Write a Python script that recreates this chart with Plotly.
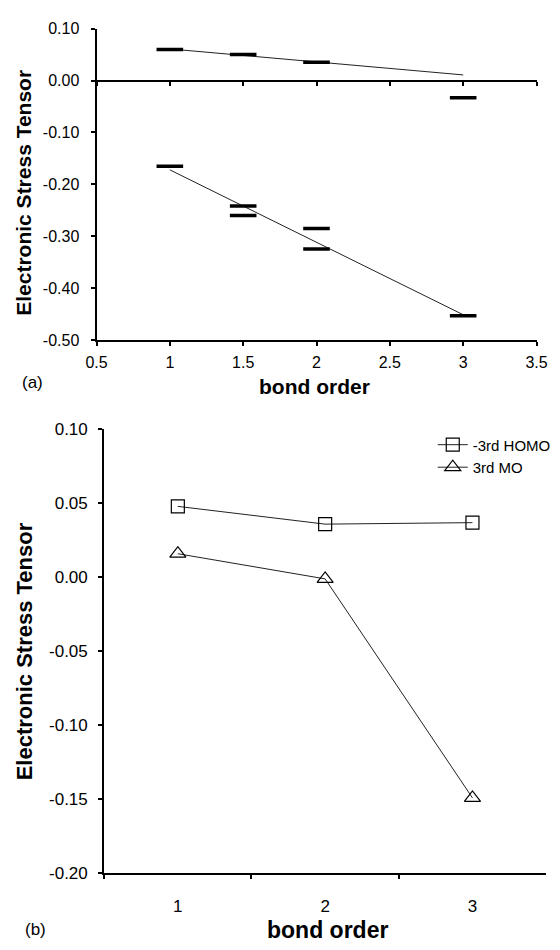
import numpy as np
import plotly.graph_objects as go

# ---- panel (a): stress tensor vs bond order, with linear trend lines ----
a_upper_x = [1, 1.5, 2]
a_upper_y = [0.060, 0.050, 0.035]
a_extra_x = [3]
a_extra_y = [-0.033]
a_lower_x = [1, 1.5, 1.5, 2, 2, 3]
a_lower_y = [-0.165, -0.2415, -0.260, -0.285, -0.3245, -0.453]
a_fit_span = [1, 3]
a_xticks = [0.5, 1, 1.5, 2, 2.5, 3, 3.5]
a_xticktext = ["0.5", "1", "1.5", "2", "2.5", "3", "3.5"]
a_yticks = [0.10, 0.0, -0.10, -0.20, -0.30, -0.40, -0.50]
a_yticktext = ["0.10", "0.00", "-0.10", "-0.20", "-0.30", "-0.40", "-0.50"]

# ---- panel (b): two orbitals vs bond order ----
b_cats = ["1", "2", "3"]
b_homo = [0.048, 0.036, 0.037]
b_mo3 = [0.016, -0.001, -0.149]
b_yticks = [0.10, 0.05, 0.0, -0.05, -0.10, -0.15, -0.20]
b_yticktext = ["0.10", "0.05", "0.00", "-0.05", "-0.10", "-0.15", "-0.20"]

W, H = 560, 950
FONT = "Arial, Liberation Sans, sans-serif"


def px_x(p):
    return p / W


def px_y(p):
    return 1 - p / H


a_xdom = [px_x(89), px_x(547)]
a_ydom = [px_y(338), px_y(20)]
b_xdom = [px_x(97), px_x(557)]
b_ydom = [px_y(882), px_y(429)]
a_yrange = [-0.5, 0.1]

fig = go.Figure()

dash_marker = dict(symbol="line-ew", size=19, color="black",
                   line=dict(color="black", width=3.5))

for xs, ys in [(a_upper_x, a_upper_y), (a_lower_x, a_lower_y)]:
    k, b = np.polyfit(xs, ys, 1)
    fx = np.array(a_fit_span, dtype=float)
    fig.add_trace(go.Scatter(x=fx, y=k * fx + b, mode="lines",
                             line=dict(color="#222", width=1),
                             showlegend=False, xaxis="x", yaxis="y"))

for xs, ys in [(a_upper_x, a_upper_y), (a_extra_x, a_extra_y), (a_lower_x, a_lower_y)]:
    fig.add_trace(go.Scatter(x=xs, y=ys, mode="markers", marker=dash_marker,
                             showlegend=False, xaxis="x", yaxis="y"))

# axis drawn along y = 0 in panel (a)
fig.add_trace(go.Scatter(x=[None], y=[None], xaxis="x3", yaxis="y",
                         showlegend=False, hoverinfo="skip"))

fig.add_trace(go.Scatter(x=b_cats, y=b_homo, mode="lines+markers", name="-3rd HOMO",
                         line=dict(color="#222", width=1),
                         marker=dict(symbol="square-open", size=13, color="black",
                                     line=dict(width=1.2)),
                         xaxis="x2", yaxis="y2"))
fig.add_trace(go.Scatter(x=b_cats, y=b_mo3, mode="lines+markers", name="3rd MO",
                         line=dict(color="#222", width=1),
                         marker=dict(symbol="triangle-up-open", size=14, color="black",
                                     line=dict(width=1.2)),
                         xaxis="x2", yaxis="y2"))

zero_pos = a_ydom[0] + (0 - a_yrange[0]) / (a_yrange[1] - a_yrange[0]) * (a_ydom[1] - a_ydom[0])

axis_style = dict(showline=True, linecolor="black", linewidth=2, ticks="outside",
                  tickcolor="black", tickwidth=2, ticklen=4, showgrid=False,
                  zeroline=False, tickfont=dict(family=FONT, size=16, color="black"))
b_tickfont = dict(family=FONT, size=17, color="black")

fig.update_layout(
    width=W, height=H,
    margin=dict(l=0, r=0, t=0, b=0),
    paper_bgcolor="white", plot_bgcolor="white",
    font=dict(family=FONT, color="black"),
    xaxis=dict(domain=a_xdom, anchor="y", range=[0.5, 3.5], tickvals=a_xticks,
               ticktext=a_xticktext, ticklabelstandoff=3, **axis_style),
    yaxis=dict(domain=a_ydom, anchor="x", range=a_yrange, tickvals=a_yticks,
               ticktext=a_yticktext, ticklabelstandoff=8, **axis_style),
    xaxis3=dict(overlaying="x", anchor="free", position=zero_pos, range=[0.5, 3.5],
                tickvals=a_xticks, showticklabels=False, **axis_style),
    xaxis2=dict(domain=b_xdom, anchor="y2", type="category", range=[-0.5, 2.5],
                tickson="boundaries", ticklabelstandoff=16,
                **{**axis_style, "tickfont": b_tickfont}),
    yaxis2=dict(domain=b_ydom, anchor="x2", range=[-0.2, 0.1], tickvals=b_yticks,
                ticktext=b_yticktext, ticklabelstandoff=7,
                **{**axis_style, "tickfont": b_tickfont}),
    legend=dict(x=px_x(439), y=px_y(428), xanchor="left", yanchor="top",
                bgcolor="rgba(0,0,0,0)", font=dict(family=FONT, size=15, color="black"),
                tracegroupgap=0, itemwidth=30),
)

title_font = dict(family=FONT, size=21, color="black", weight="bold")
title_font_b = dict(family=FONT, size=22, color="black", weight="bold")
xtitle_font_b = dict(family=FONT, size=23, color="black", weight="bold")
label_font = dict(family=FONT, size=17, color="black")
annotations = [
    dict(text="Electronic Stress Tensor", x=px_x(13), y=px_y(187), textangle=-90,
         font=title_font),
    dict(text="bond order", x=px_x(316), y=px_y(385), font=title_font),
    dict(text="(a)", x=px_x(22), y=px_y(381), font=label_font),
    dict(text="Electronic Stress Tensor", x=px_x(14), y=px_y(655), textangle=-90,
         font=title_font_b),
    dict(text="bond order", x=px_x(329), y=px_y(940), font=xtitle_font_b),
    dict(text="(b)", x=px_x(26), y=px_y(939), font=label_font),
]
for a in annotations:
    fig.add_annotation(xref="paper", yref="paper", showarrow=False,
                       xanchor="center", yanchor="middle", **a)

fig.write_html("out.html")
